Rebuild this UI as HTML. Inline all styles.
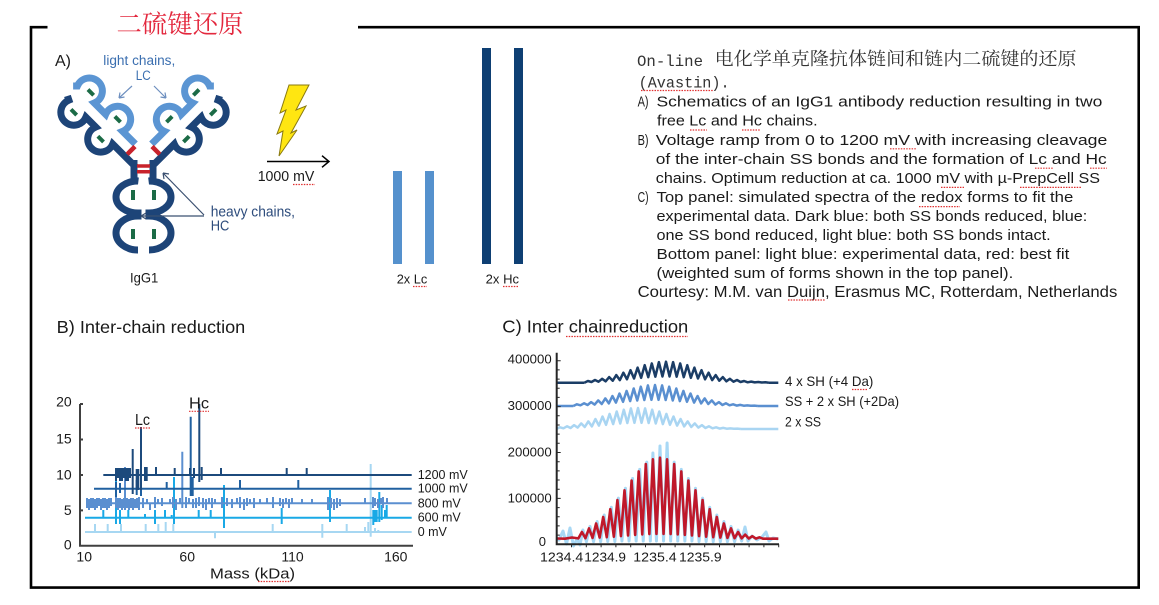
<!DOCTYPE html>
<html><head><meta charset="utf-8"><style>
html,body{margin:0;padding:0;background:#fff}
svg{display:block}
text{font-family:"Liberation Sans",sans-serif;fill:#1a1a1a}
.cjk{font-family:"Liberation Mono","Noto Serif CJK SC",serif;fill:#333}
.sq{fill:none;stroke:#e03030;stroke-width:1.2;stroke-dasharray:1.5 1.2}
</style></head><body>
<svg width="1159" height="605" viewBox="0 0 1159 605" xmlns="http://www.w3.org/2000/svg">
<rect width="1159" height="605" fill="#fff"/>
<!-- frame -->
<path d="M47.5 27.2 H31 V587.6 H1138.7 V27.2 H358" fill="none" stroke="#000" stroke-width="2.6"/>
<text x="116.5" y="33" font-size="25.5" textLength="127" lengthAdjust="spacingAndGlyphs" style="font-family:'Noto Serif CJK SC','Noto Sans CJK SC',serif;fill:#e3283e">二硫键还原</text>

<!-- Panel A -->
<text x="55" y="66" font-size="16">A)</text>
<text x="103.3" y="65" font-size="13.5" textLength="72" lengthAdjust="spacingAndGlyphs" style="fill:#3b6fb0">light chains,</text>
<text x="135.7" y="80" font-size="13.5" textLength="15" lengthAdjust="spacingAndGlyphs" style="fill:#3b6fb0">LC</text>
<path d="M132 86 L119 98 M119 98 L120 92.5 M119 98 L124.5 97 M154 86 L166 98 M166 98 L160.5 97 M166 98 L165 92.5" stroke="#6d8fbf" stroke-width="1.2" fill="none"/>

<defs>
<g id="half">
  <g transform="translate(141,161) rotate(-135)">
    <path d="M-2 -8 L32 -8 A13 13 0 1 1 56 -8 L70 -8 A13 13 0 1 1 94 -8 L98 -6" stroke="#1d4478" stroke-width="7" fill="none"/>
    <path d="M16 8 L34 8 A13 13 0 1 0 58 8 L74 8 A13 13 0 1 0 98 8 L101 5" stroke="#5b95d3" stroke-width="7" fill="none"/>
    <path d="M40 -13 H48 M78 -13 H86 M42 13 H50 M80 13 H88" stroke="#1b6b46" stroke-width="4" fill="none"/>
    <path d="M14.5 -5 V6" stroke="#c8232c" stroke-width="4.5" fill="none"/>
  </g>
  <path d="M134 160 V180 L138 181 A22 16 0 0 0 138 213 L138 216 A22 17 0 0 0 138 250" stroke="#1d4478" stroke-width="7" fill="none"/>
  <path d="M133 190 V200 M133 229 V239" stroke="#1b6b46" stroke-width="4" fill="none"/>
</g>
</defs>
<use href="#half"/>
<use href="#half" transform="translate(287,0) scale(-1,1)"/>
<path d="M137 166 H150 M137 171.7 H150" stroke="#c8232c" stroke-width="3.5" fill="none"/>
<path d="M204 215 L163 173 M163 173 L164 179 M163 173 L169 174 M204 216 L141 216 M141 216 L146 213 M141 216 L146 219" stroke="#3b5070" stroke-width="1.2" fill="none"/>
<text x="210.7" y="216.7" font-size="15" textLength="84.3" lengthAdjust="spacingAndGlyphs" style="fill:#2d4c7c">heavy chains,</text>
<text x="210.7" y="230.5" font-size="15" textLength="18.6" lengthAdjust="spacingAndGlyphs" style="fill:#2d4c7c">HC</text>
<text x="130" y="282.7" font-size="14" textLength="28.3" lengthAdjust="spacingAndGlyphs">IgG1</text>

<polygon points="289,85 309,85 296,110 306,106 291,133 297,130 279,156 283,131 277,134 286,110 280,113" fill="#ffe611" stroke="#8a7a10" stroke-width="1"/>
<path d="M267 161.5 H329 M322 155.7 L329 161.5 L322 167.3" stroke="#000" stroke-width="1.5" fill="none"/>
<text x="257.7" y="181" font-size="14.5" textLength="56.6" lengthAdjust="spacingAndGlyphs">1000 mV</text>
<path class="sq" d="M293 184.5 H315"/>

<rect x="393" y="171" width="9" height="93" fill="#5591cd"/>
<rect x="425" y="171" width="9" height="93" fill="#5591cd"/>
<rect x="482" y="48" width="9" height="216" fill="#0e3f73"/>
<rect x="514" y="48" width="9" height="216" fill="#0e3f73"/>
<text x="396.7" y="283.3" font-size="13" textLength="30.6" lengthAdjust="spacingAndGlyphs">2x Lc</text>
<text x="485.7" y="283.3" font-size="13" textLength="33.3" lengthAdjust="spacingAndGlyphs">2x Hc</text>
<path class="sq" d="M413 286.5 H427 M503 286.5 H519"/>

<!-- description text -->
<text x="637" y="66" font-size="16" textLength="66" lengthAdjust="spacingAndGlyphs" style="font-family:'Liberation Mono',monospace;fill:#333">On-line</text>
<text x="714.6" y="65" font-size="18" textLength="362" lengthAdjust="spacingAndGlyphs" class="cjk">电化学单克隆抗体链间和链内二硫键的还原</text>
<text x="638.6" y="87.3" font-size="16" textLength="91" lengthAdjust="spacingAndGlyphs" style="font-family:'Liberation Mono',monospace;fill:#333">(Avastin).</text>
<path class="sq" d="M641 90.5 H713"/>

<g font-size="15">
<text x="637.6" y="106.7" textLength="11" lengthAdjust="spacingAndGlyphs">A)</text>
<text x="656.5" y="106.7" textLength="445.8" lengthAdjust="spacingAndGlyphs">Schematics of an IgG1 antibody reduction resulting in two</text>
<text x="657" y="125.7" textLength="160.6" lengthAdjust="spacingAndGlyphs">free Lc and Hc chains.</text>
<text x="637.6" y="144.8" textLength="11" lengthAdjust="spacingAndGlyphs">B)</text>
<text x="655.8" y="144.8" textLength="451.5" lengthAdjust="spacingAndGlyphs">Voltage ramp from 0 to 1200 mV with increasing cleavage</text>
<text x="655.8" y="163.8" textLength="450.9" lengthAdjust="spacingAndGlyphs">of the inter-chain SS bonds and the formation of Lc and Hc</text>
<text x="655.8" y="182.8" textLength="444.2" lengthAdjust="spacingAndGlyphs">chains. Optimum reduction at ca. 1000 mV with µ-PrepCell SS</text>
<text x="637.6" y="201.8" textLength="11" lengthAdjust="spacingAndGlyphs">C)</text>
<text x="656.5" y="201.8" textLength="416.8" lengthAdjust="spacingAndGlyphs">Top panel: simulated spectra of the redox forms to fit the</text>
<text x="656.5" y="220.8" textLength="430.8" lengthAdjust="spacingAndGlyphs">experimental data. Dark blue: both SS bonds reduced, blue:</text>
<text x="656.5" y="239.8" textLength="394.2" lengthAdjust="spacingAndGlyphs">one SS bond reduced, light blue: both SS bonds intact.</text>
<text x="656.5" y="258.8" textLength="412.8" lengthAdjust="spacingAndGlyphs">Bottom panel: light blue: experimental data, red: best fit</text>
<text x="656.5" y="277.8" textLength="356.8" lengthAdjust="spacingAndGlyphs">(weighted sum of forms shown in the top panel).</text>
</g>
<text x="637.6" y="296.8" font-size="16" textLength="479.7" lengthAdjust="spacingAndGlyphs">Courtesy: M.M. van Duijn, Erasmus MC, Rotterdam, Netherlands</text>
<path class="sq" d="M690 130 H707 M742 130 H760 M890 148.8 H916 M1035 168.2 H1053 M1090 168.2 H1107 M941 187.4 H964 M1020 187.4 H1081 M919 206.6 H960 M788 300 H825"/>

<!-- Panel B -->
<text x="56.7" y="333" font-size="17.5" textLength="188.6" lengthAdjust="spacingAndGlyphs">B) Inter-chain reduction</text>
<g font-size="14" text-anchor="end">
<text x="71.7" y="406.7">20</text>
<text x="71.7" y="443.3">15</text>
<text x="71.7" y="479.3">10</text>
<text x="71.7" y="515">5</text>
<text x="71.7" y="549.3">0</text>
</g>
<g font-size="14" text-anchor="middle">
<text x="84.2" y="561.7">10</text>
<text x="187.2" y="561.7">60</text>
<text x="292.5" y="561.7">110</text>
<text x="395.8" y="561.7">160</text>
</g>
<text x="210" y="578.3" font-size="15" textLength="85" lengthAdjust="spacingAndGlyphs">Mass (kDa)</text>
<path class="sq" d="M258 581.5 H290"/>

<g fill="none" stroke-width="2">
<path stroke="#a7d7f2" d="M85 532 H411.7 M95 524V532 M107.7 524V532 M121 524V532 M145.7 524V532 M158.3 524V532 M165.7 522V532 M173.3 524V532 M215 532V538.3 M272.7 524V532 M322.3 524V537.7 M346.7 524V532 M365 527V532 M368.3 522V532 M370.7 464V536.7 M375 528V532 M378.3 530V532"/>
<path stroke="#19a9e6" d="M85 517.7 H411.7 M103.3 510V518 M116 477V524 M120 510V524 M128.3 510V518 M145 514V518 M155 510V524 M165 510V518 M171.7 515V518 M174 477V524 M198.7 510V518 M210.7 510V518 M224 485V528 M281.7 508V524 M330 490V522 M373.3 510V525 M375 510V522 M376.7 510V522 M379.3 492V522 M381.7 505V520 M385 510V518 M386.7 505V518"/>
<path stroke="#5b8fd0" d="M86 503.3 H411.7 M87 498V508 M89 499V510 M91 498V508 M93 498V508 M95 499V510 M97 498V508 M99 498V506 M101 499V510 M103 498V508 M105 498V508 M107 499V510 M109 498V508 M111 498V506 M116 497V508 M118 498V510 M120 498V508 M122 499V510 M124 498V508 M125 467V510 M127 498V508 M129 499V510 M131 498V508 M133 498V510 M135 499V508 M137 498V508 M139 497V510 M143 498V508 M147 499V504 M150 503V510 M155 497V508 M158 499V504 M162 498V506 M170 499V504 M173 497V508 M176 499V510 M180 498V504 M182.3 451.7V508 M186 497V508 M189 498V504 M193 499V508 M196 498V508 M199 497V506 M203 498V508 M206 499V510 M209 498V504 M212 498V508 M215 499V504 M222 497V508 M227 498V506 M232 499V508 M237 498V504 M240 497V508 M244 499V510 M247 498V506 M250 499V504 M254 498V508 M260 499V504 M267 498V504 M273 497V508 M280 498V506 M283 499V508 M286 498V504 M289 499V508 M292 498V504 M302 499V504 M312 499V504 M328 497V510 M331 498V508 M334 499V510 M337 498V508 M340 499V506 M365 498V504 M373 497V508 M375 498V506 M378 499V508 M381 498V504 M383 497V508 M387 498V504"/>
<path stroke="#2060a0" d="M94 488.7 H411.7 M116 482V497 M120 483V493 M136.7 480V495 M141 488V496 M166.7 482V489 M190.7 416.7V496 M192.7 477V496 M240 480V489 M298.3 480V489"/>
<path stroke="#1c4a7c" d="M103.3 475 H411.7 M116 468V481 M118 468V478 M120 468V481 M122 468V481 M124 468V478 M126 468V481 M128 468V481 M130 468V478 M132.7 449V494 M136.7 469V490 M138.3 469V490 M141 427V490 M145 467V481 M146.7 467V481 M156 467V475 M174.7 468V475 M190 468V475 M194 468V478 M199.3 404V482 M201.7 467V480 M221 468V475 M286.7 468V475 M306.7 468V475"/>
</g>
<path d="M80 404 V545.7 H413 M80 404 H83 M80 439.5 H83 M80 475 H83 M80 510.4 H83" fill="none" stroke="#404040" stroke-width="2"/>
<text x="135" y="425" font-size="16" textLength="15" lengthAdjust="spacingAndGlyphs">Lc</text>
<text x="189" y="408.3" font-size="16" textLength="20" lengthAdjust="spacingAndGlyphs">Hc</text>
<path class="sq" d="M135 428 H150 M189 411.3 H209"/>
<g font-size="12.5">
<text x="417.7" y="479">1200 mV</text>
<text x="417.7" y="492.7">1000 mV</text>
<text x="417.7" y="507.3">800 mV</text>
<text x="417.7" y="521.7">600 mV</text>
<text x="417.7" y="536">0 mV</text>
</g>

<!-- Panel C -->
<text x="502.3" y="332.7" font-size="17.5" textLength="186" lengthAdjust="spacingAndGlyphs">C) Inter chainreduction</text>
<path class="sq" d="M566 336.5 H688"/>
<g font-size="13">
<text x="507.7" y="363.3" textLength="44" lengthAdjust="spacingAndGlyphs">400000</text>
<text x="507.7" y="410" textLength="44" lengthAdjust="spacingAndGlyphs">300000</text>
<text x="507.7" y="456.7" textLength="44" lengthAdjust="spacingAndGlyphs">200000</text>
<text x="507.7" y="502.7" textLength="44" lengthAdjust="spacingAndGlyphs">100000</text>
<text x="538.7" y="546">0</text>
<text x="540" y="561.7" textLength="43.3" lengthAdjust="spacingAndGlyphs">1234.4</text>
<text x="584.3" y="561.7" textLength="41.7" lengthAdjust="spacingAndGlyphs">1234.9</text>
<text x="633.3" y="561.7" textLength="43.4" lengthAdjust="spacingAndGlyphs">1235.4</text>
<text x="679" y="561.7" textLength="42.7" lengthAdjust="spacingAndGlyphs">1235.9</text>
</g>
<g font-size="14">
<text x="785" y="386" textLength="88.3" lengthAdjust="spacingAndGlyphs">4 x SH (+4 Da)</text>
<text x="785" y="406" textLength="114" lengthAdjust="spacingAndGlyphs">SS + 2 x SH (+2Da)</text>
<text x="785" y="426.7" textLength="36" lengthAdjust="spacingAndGlyphs">2 x SS</text>
</g>
<path class="sq" d="M852 389.5 H868"/>

<defs>
<path id="rip" d="M-81.65 0 L-78.1 -1.7 -74.55 -0.7 -71 -2.7 -67.45 -1 -63.9 -3.9 -60.35 -1.4 -56.8 -5.6 -53.25 -2 -49.7 -7.6 -46.15 -2.6 -42.6 -10 -39.05 -3.4 -35.5 -12.5 -31.95 -4.2 -28.4 -15.1 -24.85 -4.9 -21.3 -17.5 -17.75 -5.5 -14.2 -19.3 -10.65 -6 -7.1 -20.6 -3.55 -6.2 0 -21 3.55 -6.2 7.1 -20.6 10.65 -6 14.2 -19.3 17.75 -5.5 21.3 -17.5 24.85 -4.9 28.4 -15.1 31.95 -4.2 35.5 -12.5 39.05 -3.4 42.6 -10 46.15 -2.6 49.7 -7.6 53.25 -2 56.8 -5.6 60.35 -1.4 63.9 -3.9 67.45 -1 71 -2.7 74.55 -0.7 78.1 -1.7 81.65 -0.4 85.2 -1.1 88.75 -0.3 92.3 -0.65 95.85 -0.2 99.4 -0.4 102.95 0"/>
</defs>
<g fill="none" stroke-width="2.5" stroke-linejoin="round">
<g stroke="#a9d5f2"><use href="#rip" transform="translate(638,429)"/><path d="M556.7 429 H557 M740.9 429 H778.3"/></g>
<g stroke="#5a8fd0"><use href="#rip" transform="translate(655,406)"/><path d="M556.7 406 H573.4 M757.9 406 H778.3"/></g>
<g stroke="#1b3d66"><use href="#rip" transform="translate(666,382.7)"/><path d="M556.7 382.7 H584.4 M768.9 382.7 H778.3"/></g>

<path stroke="#a8d8f5" stroke-width="3" d="M556.7 538 L559 540 563 531 566.5 544 570 528 573.5 546 577 539 580 545 582.9 530 586.45 541.7 590 526.4 593.55 541.7 597.1 521.5 600.65 541.7 604.2 515 607.75 541.5 611.3 507.2 614.85 541.5 618.4 498.1 621.95 541 625.5 488.3 629.05 541 632.6 478.5 636.15 541 639.7 469.4 643.25 541 646.8 462.1 650.35 541 652.9 453 656.45 541 660 446 663.55 541 667.1 443 670.65 541 674.2 462.1 677.75 541 681.3 469.4 684.85 541 688.4 478.5 691.95 541 695.5 488.3 699.05 541.5 702.6 498.1 706.15 541.5 709.7 507.2 713.25 541.7 716.8 515 720.35 541.7 723.9 521.5 727.45 541.7 731 526.4 734.55 541.7 738.1 530 741.65 541 745 527 748 541 752 536 757 540 762 537 766 532 769 541 773 538 778.3 539"/>
<path stroke="#c0182a" stroke-width="2.6" d="M556.7 538.5 L565 538.7 572 537.5 578.35 538.4 L581.9 532 585.45 538.2 589 528.4 592.55 537.9 596.1 523.5 599.65 537.6 603.2 517 606.75 537.2 610.3 509.2 613.85 536.7 617.4 500.1 620.95 536.1 624.5 490.3 628.05 535.5 631.6 480.5 635.15 534.9 638.7 471.4 642.25 534.4 645.8 464.1 649.35 534.1 652.9 459.3 656.45 533.9 660 457.7 663.55 533.9 667.1 459.3 670.65 534.1 674.2 464.1 677.75 534.4 681.3 471.4 684.85 534.9 688.4 480.5 691.95 535.5 695.5 490.3 699.05 536.1 702.6 500.1 706.15 536.7 709.7 509.2 713.25 537.2 716.8 517 720.35 537.6 723.9 523.5 727.45 537.9 731 528.4 734.55 538.2 738.1 532 741.65 538.4 745.2 534.6 748.75 538.5 752.3 536.2 755.85 538.6 759.4 537.3 762.95 538.7 H778.3"/>
</g>
<path d="M556.7 352.7 V544.3 H779" fill="none" stroke="#262626" stroke-width="2"/>
<path d="M556.7 535.1 h3 M556.7 525.9 h3 M556.7 516.8 h3 M556.7 507.6 h3 M556.7 498.4 h4 M556.7 489.2 h3 M556.7 480 h3 M556.7 470.9 h3 M556.7 461.7 h3 M556.7 452.5 h4 M556.7 443.3 h3 M556.7 434.1 h3 M556.7 425 h3 M556.7 415.8 h3 M556.7 406.6 h4 M556.7 397.4 h3 M556.7 388.2 h3 M556.7 379.1 h3 M556.7 369.9 h3 M556.7 360.7 h4 M571.5 544.3 v3 M586.3 544.3 v3 M601.1 544.3 v3 M615.9 544.3 v3 M630.7 544.3 v3 M645.5 544.3 v3 M660.3 544.3 v3 M675.1 544.3 v3 M689.9 544.3 v3 M704.7 544.3 v3 M719.5 544.3 v3 M734.3 544.3 v3 M749.1 544.3 v3 M763.9 544.3 v3 M778.7 544.3 v3" fill="none" stroke="#262626" stroke-width="1"/>
</svg>
</body></html>
